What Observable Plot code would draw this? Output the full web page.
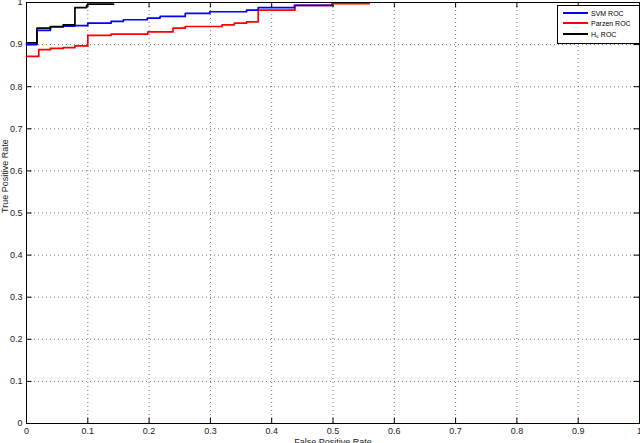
<!DOCTYPE html>
<html>
<head>
<meta charset="utf-8">
<script src="https://cdn.jsdelivr.net/npm/d3@7"></script>
<script src="https://cdn.jsdelivr.net/npm/@observablehq/plot@0.6"></script>
<style>
  html, body { margin: 0; padding: 0; background: #fff; }
  #wrap { position: relative; width: 640px; height: 443px; overflow: hidden; }
  #legend { position: absolute; left: 557px; top: 5px; width: 81px; height: 37px;
    border: 1px solid #000; background: #fff; font: 7px "Liberation Sans", Arial, sans-serif; color: #000; }
  #legend .row { position: absolute; left: 5px; height: 10px; display: flex; align-items: center; white-space: nowrap; }
  #legend .sw { width: 25px; height: 2px; margin-right: 3px; }
</style>
</head>
<body>
<div id="wrap"></div>
<script>
// ROC data (step curves)
const svmFpr = [0, 0.017, 0.039, 0.060, 0.079, 0.100, 0.138, 0.158, 0.197, 0.218, 0.259, 0.299, 0.359, 0.378, 0.437, 0.50];
const svmTpr = [0.900, 0.934, 0.942, 0.944, 0.945, 0.951, 0.955, 0.959, 0.963, 0.967, 0.974, 0.978, 0.982, 0.988, 0.993, 0.993];
const parzenFpr = [0, 0.020, 0.039, 0.060, 0.079, 0.100, 0.138, 0.198, 0.239, 0.259, 0.319, 0.339, 0.359, 0.378, 0.438, 0.498, 0.559];
const parzenTpr = [0.872, 0.888, 0.891, 0.893, 0.897, 0.922, 0.925, 0.930, 0.939, 0.943, 0.947, 0.951, 0.954, 0.982, 0.993, 0.997, 0.997];
const h6Fpr = [0, 0.017, 0.039, 0.060, 0.079, 0.098, 0.100, 0.142];
const h6Tpr = [0.904, 0.939, 0.943, 0.947, 0.988, 0.993, 0.996, 0.996];
const seriesNames = ["SVM ROC", "Parzen ROC", "H\u2086 ROC"];
const seriesColors = ["#0000ff", "#ff0000", "#000000"];
const tickValues = [0, 0.1, 0.2, 0.3, 0.4, 0.5, 0.6, 0.7, 0.8, 0.9, 1];
const tickLabels = ["0", "0.1", "0.2", "0.3", "0.4", "0.5", "0.6", "0.7", "0.8", "0.9", "1"];
const xLabel = "False Positive Rate";
const yLabel = "True Positive Rate";

const toRows = (xs, ys, name) => xs.map((x, i) => ({x, y: ys[i], name}));
const svm = toRows(svmFpr, svmTpr, seriesNames[0]);
const parzen = toRows(parzenFpr, parzenTpr, seriesNames[1]);
const h6 = toRows(h6Fpr, h6Tpr, seriesNames[2]);
const fmt = d => tickLabels[tickValues.indexOf(d)] ?? String(d);
const innerTicks = tickValues.slice(1, -1);
const font = '"Liberation Sans", Arial, sans-serif';

const chart = Plot.plot({
  width: 640,
  height: 443,
  marginLeft: 26,
  marginRight: 1,
  marginTop: 2,
  marginBottom: 20,
  style: {fontFamily: font, fontSize: "9px", background: "#fff", color: "#222"},
  x: {domain: [0, 1], ticks: tickValues, tickFormat: fmt, label: null},
  y: {domain: [0, 1], ticks: tickValues, tickFormat: fmt, label: null},
  marks: [
    Plot.ruleX(innerTicks, {stroke: "#777", strokeDasharray: "1,3", strokeWidth: 1}),
    Plot.ruleY(innerTicks, {stroke: "#777", strokeDasharray: "1,3", strokeWidth: 1}),
    // inward tick marks (MATLAB style)
    Plot.ruleX(innerTicks, {y1: 0, y2: 0.013, stroke: "#000"}),
    Plot.ruleX(innerTicks, {y1: 0.987, y2: 1, stroke: "#000"}),
    Plot.ruleY(innerTicks, {x1: 0, x2: 0.009, stroke: "#000"}),
    Plot.ruleY(innerTicks, {x1: 0.991, x2: 1, stroke: "#000"}),
    Plot.axisX({ticks: tickValues, tickFormat: fmt, tickSize: 0, tickPadding: 4, label: null}),
    Plot.axisY({ticks: tickValues, tickFormat: fmt, tickSize: 0, tickPadding: 4, label: null}),
    Plot.frame({stroke: "#000", strokeWidth: 1}),
    Plot.line(parzen, {x: "x", y: "y", curve: "step-after", stroke: seriesColors[1], strokeWidth: 1.7}),
    Plot.line(svm, {x: "x", y: "y", curve: "step-after", stroke: seriesColors[0], strokeWidth: 1.7}),
    Plot.line(h6, {x: "x", y: "y", curve: "step-after", stroke: seriesColors[2], strokeWidth: 1.7}),
    Plot.text([xLabel], {frameAnchor: "bottom", dy: 21, fontSize: 9, fill: "#222"}),
    Plot.text([yLabel], {frameAnchor: "left", dx: -21, rotate: -90, fontSize: 9, fill: "#222"})
  ]
});

const wrap = document.getElementById("wrap");
wrap.appendChild(chart);

const legend = document.createElement("div");
legend.id = "legend";
const rowTops = [2, 12, 23];
seriesNames.forEach((name, i) => {
  const row = document.createElement("div");
  row.className = "row";
  row.style.top = rowTops[i] + "px";
  const sw = document.createElement("div");
  sw.className = "sw";
  sw.style.backgroundColor = seriesColors[i];
  const label = document.createElement("span");
  label.textContent = name;
  row.appendChild(sw);
  row.appendChild(label);
  legend.appendChild(row);
});
wrap.appendChild(legend);
</script>
</body>
</html>
